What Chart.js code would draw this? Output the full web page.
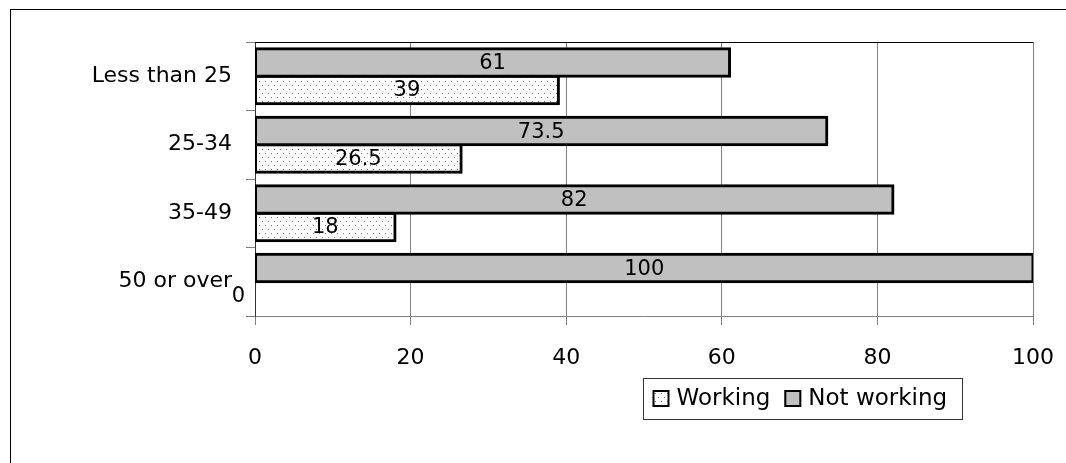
<!DOCTYPE html>
<html>
<head>
<meta charset="utf-8">
<script src="https://cdn.jsdelivr.net/npm/chart.js@4/dist/chart.umd.min.js"></script>
<style>
  html, body { margin: 0; padding: 0; background: #fff; }
  #wrap { width: 1066px; height: 463px; }
  canvas { display: block; }
</style>
</head>
<body>
<div id="wrap"><canvas id="c" width="1066" height="463"></canvas></div>
<script>
// Age groups and the share (%) in each employment status
const categories = ['Less than 25', '25-34', '35-49', '50 or over'];
const notWorking = [61, 73.5, 82, 100];
const working = [39, 26.5, 18, 0];
const xTickValues = [0, 20, 40, 60, 80, 100];

const FONT = 'DejaVu Sans';
const canvas = document.getElementById('c');
const ctx = canvas.getContext('2d');

// light dotted fill used for the "Working" bars
function makeDots(g) {
  const tile = document.createElement('canvas');
  tile.width = 6; tile.height = 8;
  const t = tile.getContext('2d');
  t.fillStyle = '#ffffff';
  t.fillRect(0, 0, 6, 8);
  t.fillStyle = '#7a7a7a';
  t.fillRect(1, 1, 1, 1);
  t.fillRect(4, 5, 1, 1);
  return g.createPattern(tile, 'repeat');
}
const dots = makeDots(ctx);

// outer frame and top edge of the plot area
const framePlugin = {
  id: 'frame',
  beforeDraw(chart) {
    const g = chart.ctx;
    g.save();
    g.fillStyle = '#fff';
    g.fillRect(0, 0, chart.width, chart.height);
    g.strokeStyle = '#000';
    g.lineWidth = 1;
    g.strokeRect(10.5, 9.5, chart.width + 20, chart.height + 20);
    g.restore();
  },
  afterDraw(chart) {
    const a = chart.chartArea;
    const g = chart.ctx;
    g.save();
    g.strokeStyle = '#000';
    g.lineWidth = 1;
    g.beginPath();
    g.moveTo(a.left, Math.round(a.top) + 0.5);
    g.lineTo(a.right, Math.round(a.top) + 0.5);
    g.stroke();
    g.restore();
  }
};

// value printed in the middle of each bar
const barLabels = {
  id: 'barLabels',
  afterDatasetsDraw(chart) {
    const g = chart.ctx;
    g.save();
    g.font = '21px "' + FONT + '"';
    g.fillStyle = '#000';
    g.textBaseline = 'middle';
    chart.data.datasets.forEach((ds, i) => {
      const meta = chart.getDatasetMeta(i);
      meta.data.forEach((bar, j) => {
        const v = ds.data[j];
        const p = bar.getProps(['x', 'y', 'base'], true);
        if (v === 0) {
          g.textAlign = 'right';
          g.fillText(String(v), p.base - 10, p.y + 1);
        } else {
          g.textAlign = 'center';
          g.fillText(String(v), (p.x + p.base) / 2, p.y + 1);
        }
      });
    });
    g.restore();
  }
};

// boxed legend below the axis, Working first
const boxLegend = {
  id: 'boxLegend',
  afterDraw(chart) {
    const g = chart.ctx;
    const box = { x: 643.5, y: 378.5, w: 319, h: 41 };
    g.save();
    g.strokeStyle = '#333';
    g.lineWidth = 1;
    g.strokeRect(box.x, box.y, box.w, box.h);
    g.font = '23px "' + FONT + '"';
    g.textBaseline = 'middle';
    g.textAlign = 'left';
    const cy = box.y + box.h / 2;
    let x = box.x + 9;
    const items = chart.data.datasets.slice().reverse();
    items.forEach(ds => {
      g.fillStyle = ds.backgroundColor;
      g.fillRect(x, cy - 9, 17, 17);
      g.strokeStyle = '#000';
      g.lineWidth = 2;
      g.strokeRect(x + 1, cy - 8, 15, 15);
      g.fillStyle = '#000';
      g.fillText(ds.label, x + 24, cy);
      x += 24 + g.measureText(ds.label).width + 14;
    });
    g.restore();
  }
};

const barStyle = {
  borderColor: '#000',
  borderWidth: c => (c.raw === 0 ? 0 : 3),
  borderSkipped: false,
  inflateAmount: c => (c.raw === 0 ? 0 : 1.5)
};

new Chart(ctx, {
  type: 'bar',
  data: {
    labels: categories,
    datasets: [
      Object.assign({ label: 'Not working', data: notWorking, backgroundColor: '#c0c0c0' }, barStyle),
      Object.assign({ label: 'Working', data: working, backgroundColor: dots }, barStyle)
    ]
  },
  options: {
    indexAxis: 'y',
    responsive: false,
    animation: false,
    devicePixelRatio: 1,
    categoryPercentage: 0.8,
    barPercentage: 1,
    layout: { padding: { top: 42, right: 33, left: 0, bottom: 0 } },
    scales: {
      x: {
        min: 0,
        max: 100,
        afterBuildTicks(s) { s.ticks = xTickValues.map(v => ({ value: v })); },
        ticks: { color: '#000', font: { family: FONT, size: 22 }, padding: 20, maxRotation: 0 },
        grid: { color: '#808080', lineWidth: 1, tickLength: 9 },
        border: { color: '#808080' },
        afterFit(s) { s.height = 147; s.paddingLeft = 0; s.paddingRight = 0; }
      },
      y: {
        ticks: { color: '#000', font: { family: FONT, size: 22 }, padding: 14 },
        grid: { drawOnChartArea: false, tickLength: 9, color: '#808080', offset: true },
        border: { color: '#333' },
        afterFit(s) { s.width = 255; s.paddingTop = 0; s.paddingBottom = 0; }
      }
    },
    plugins: {
      legend: { display: false },
      tooltip: { enabled: false }
    }
  },
  plugins: [framePlugin, barLabels, boxLegend]
});
</script>
</body>
</html>
